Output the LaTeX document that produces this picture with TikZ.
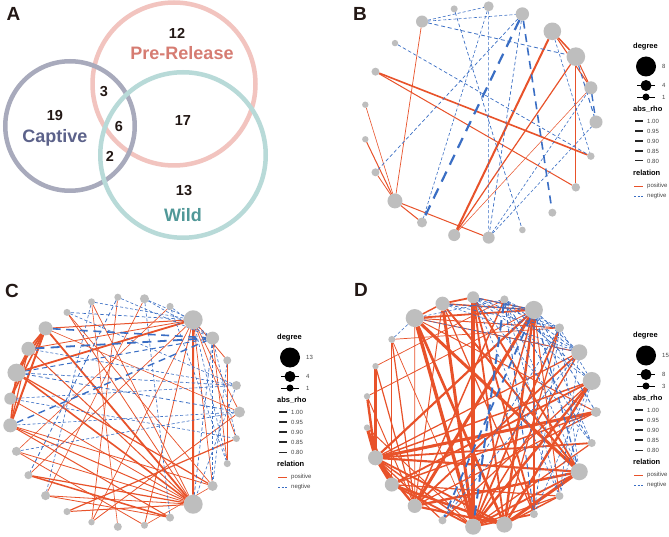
\documentclass[tikz,border=0pt]{standalone}
\usepackage{fontspec}
\setmainfont{Liberation Sans}
\usetikzlibrary{calc}
\pgfdeclarelayer{bgw}\pgfdeclarelayer{bg}\pgfsetlayers{bgw,bg,main}
\definecolor{posc}{RGB}{232,82,42}
\definecolor{negc}{RGB}{58,110,196}
\definecolor{ngray}{RGB}{190,190,190}
\definecolor{txt}{RGB}{35,24,21}
\definecolor{prec}{RGB}{242,196,191}
\definecolor{pretxt}{RGB}{214,124,114}
\definecolor{capc}{RGB}{168,170,188}
\definecolor{captxt}{RGB}{92,98,138}
\definecolor{wildc}{RGB}{184,218,216}
\definecolor{wildtxt}{RGB}{80,152,152}
\definecolor{lgtxt}{RGB}{70,70,70}
\tikzset{
  vnode/.style={circle, fill=ngray, inner sep=0pt, outer sep=0pt, minimum size=#1*2pt},
  pose/.style={draw=posc, line width=#1},
  nege/.style={draw=negc, line width=#1, dash pattern=on 5\pgflinewidth off 3.5\pgflinewidth},
  vcirc/.style={circle, draw=#1, line width=4.5pt, inner sep=0pt},
  vnum/.style={text=txt, font=\bfseries\fontsize{14.5}{16}\selectfont},
  vlab/.style={font=\bfseries\fontsize{18}{20}\selectfont},
  panel/.style={text=txt, font=\bfseries\fontsize{19}{21}\selectfont},
  lgt/.style={anchor=west, inner sep=0pt, text=lgtxt, font=\fontsize{6}{7}\selectfont},
  lgh/.style={anchor=west, inner sep=0pt, text=black, font=\bfseries\fontsize{7.5}{8}\selectfont},
  lgc/.style={circle, fill=black, inner sep=0pt, minimum size=#1*2pt},
}
\newcommand\lgd[6]{%
  \node[lgh] (#1deg) at (#2-1,#3) {degree};
  \node[lgc=10] (#1big) at (#2+12,#3+19.5) {};
  \node[lgt] (#1bigt) at (#2+28,#3+19.5) {#4};
  \coordinate (#1ma) at (#2+3,#3+38.5); \coordinate (#1mb) at (#2+21,#3+38.5);
  \draw[line width=0.9pt] (#1ma) -- (#1mb);
  \node[lgc=5.5] (#1mid) at (#2+12,#3+38.5) {};
  \node[lgt] (#1midt) at (#2+28,#3+38.5) {#5};
  \coordinate (#1sa) at (#2+3,#3+50); \coordinate (#1sb) at (#2+21,#3+50);
  \draw[line width=0.9pt] (#1sa) -- (#1sb);
  \node[lgc=3.5] (#1sml) at (#2+12,#3+50) {};
  \node[lgt] (#1smlt) at (#2+28,#3+50) {#6};
  \node[lgh] (#1abs) at (#2-1,#3+62) {abs\_rho};
  \foreach \k/\lab/\w in {0/1.00/2.2,1/0.95/1.9,2/0.90/1.6,3/0.85/1.3,4/0.80/1.0}{
    \coordinate (#1ra\k) at (#2+1,#3+74+10*\k);
    \coordinate (#1rb\k) at (#2+9,#3+74+10*\k);
    \draw[line width=\w pt, black!85] (#1ra\k) -- (#1rb\k);
    \node[lgt] (#1rt\k) at (#2+13,#3+74+10*\k) {\lab};
  }
  \node[lgh] (#1rel) at (#2-1,#3+126) {relation};
  \coordinate (#1pa) at (#2,#3+139); \coordinate (#1pb) at (#2+9,#3+139);
  \draw[posc, line width=0.7pt] (#1pa) -- (#1pb);
  \node[lgt] (#1pt) at (#2+13,#3+139) {positive};
  \coordinate (#1na) at (#2,#3+149); \coordinate (#1nb) at (#2+9,#3+149);
  \draw[negc, line width=0.7pt, dash pattern=on 2pt off 1.5pt] (#1na) -- (#1nb);
  \node[lgt] (#1nt) at (#2+13,#3+149) {negtive};
}
\begin{document}
\begin{tikzpicture}[x=1pt,y=-1pt]
\useasboundingbox (0,0) rectangle (669,537);
\begin{pgfonlayer}{bgw}
\fill[white] (0,0) rectangle (669,537);
\end{pgfonlayer}

% ---------- Panel A ----------
\node[panel] (pA) at (13.5,13.5) {A};
\node[vcirc=prec, minimum size=163pt] (pre) at (174,84) {};
\node[vcirc=capc, minimum size=129.5pt] (cap) at (70,126) {};
\node[vcirc=wildc, minimum size=165.5pt] (wild) at (183,155) {};
\node[vnum] (n12) at (177,33) {12};
\node[vlab, text=pretxt] (lpre) at (182,53) {Pre-Release};
\node[vnum] (n19) at (55,116) {19};
\node[vlab, text=captxt] (lcap) at (55,138) {Captive};
\node[vnum] (n3) at (104,92) {3};
\node[vnum] (n6) at (119,127) {6};
\node[vnum] (n17) at (183,121) {17};
\node[vnum] (n2) at (110,156) {2};
\node[vnum] (n13) at (184,191) {13};
\node[vlab, text=wildtxt] (lwild) at (183,215) {Wild};

% ---------- Panel B ----------
\node[panel] (pB) at (360,14) {B};
\foreach \i/\r in {0/6.5,1/6.5,2/9.3,3/8.8,4/6.7,5/5,6/3.5,7/6,8/3.2,9/4,10/3.2,11/3.2,12/4,13/7.5,14/5,15/6,16/6,17/3.3,18/4,19/4.2,20/3.7}
  \node[vnode=\r] (b\i) at ({480+116*cos(\i*360/21)},{122-116*sin(\i*360/21)}) {};
\begin{pgfonlayer}{bg}
\foreach \a/\b/\w in {7/13/0.7,13/10/0.6,13/11/1.0,13/12/0.8,13/14/1.0,13/16/1.0,9/20/1.6,9/19/1.0,15/3/2.0,15/2/1.2,15/1/0.5,3/2/1.4,3/1/1.1,2/1/1.0,2/19/1.0,3/2/0.8}
  \draw[pose=\w pt] (b\a) -- (b\b);
\foreach \a/\b/\w in {7/5/0.6,7/4/0.6,7/2/0.8,6/17/0.7,5/16/0.6,5/14/0.6,4/12/0.7,4/14/2.2,4/16/0.7,4/18/1.6,8/20/0.7,16/0/0.6,16/1/0.6,1/0/1.4,2/0/1.0,3/20/0.6}
  \draw[nege=\w pt] (b\a) -- (b\b);
\end{pgfonlayer}
\lgd{lb}{634}{47}{8}{4}{1}

% ---------- Panel C ----------
\node[panel] (pC) at (12,291) {C};
\foreach \i/\r in {0/5.5,1/4.5,2/4,3/6.5,4/9.5,5/3.5,6/4.5,7/3.5,8/3.5,9/3.5,10/7,11/7,12/9,13/6,14/7,15/4.5,16/4,17/4.5,18/3.5,19/3.2,20/4,21/3.5,22/4,23/9.5,24/5,25/3.5,26/3.5}
  \node[vnode=\r] (c\i) at ({124.5+115*cos(\i*360/27)},{412-115*sin(\i*360/27)}) {};
\begin{pgfonlayer}{bg}
\foreach \a/\b/\w in {4/23/2.0,10/4/1.0,11/4/0.8,12/4/1.8,10/11/1.5,10/12/1.8,10/13/1.6,10/14/2.0,11/13/1.5,11/14/1.2,12/14/1.6,11/12/1.2,10/23/1.8,12/23/1.6,11/23/1.0,14/23/1.0,15/23/0.8,16/23/1.2,17/23/0.8,18/23/1.0,16/22/1.5,9/23/0.8,8/23/0.7,4/16/0.7,4/19/0.7,4/21/0.8,4/0/0.7,4/24/0.7,4/2/0.8,4/26/0.7,2/25/1.0,18/26/1.2,14/24/0.8,12/24/1.2,15/21/0.8,7/19/0.7,8/20/0.6,6/17/0.6,3/25/0.7,13/23/0.8,17/22/0.8,19/0/0.8,5/15/0.6,9/24/0.7,10/0/0.6,14/22/1.0,21/24/0.6}
  \draw[pose=\w pt] (c\a) -- (c\b);
\foreach \a/\b/\w in {10/3/1.6,11/3/1.8,14/3/1.4,12/3/1.0,12/0/0.8,12/1/0.7,13/1/0.6,14/0/0.6,15/0/0.6,9/4/0.7,7/3/0.6,5/25/0.6,6/3/0.6,6/22/0.6,7/16/0.8,9/1/0.6,4/25/0.6,3/24/0.6,1/23/0.6,3/23/0.7,2/24/0.6,5/3/0.6,6/4/0.6,8/4/0.6,13/26/0.6,8/17/0.6,11/1/0.6,3/26/0.6}
  \draw[nege=\w pt] (c\a) -- (c\b);
\end{pgfonlayer}
\lgd{lc}{278}{338}{13}{4}{1}

% ---------- Panel D ----------
\node[panel] (pD) at (361,290) {D};
\foreach \i/\r in {0/5,1/9,2/8,3/4.5,4/9,5/4,6/6,7/7,8/9,9/3.5,10/3.2,11/3.2,12/3.2,13/7.5,14/7,15/7,16/4,17/8,18/8,19/4,20/4,21/8.5,22/4}
  \node[vnode=\r] (d\i) at ({481+115*cos(\i*360/23)},{412-115*sin(\i*360/23)}) {};
\begin{pgfonlayer}{bg}
\foreach \a/\b/\w in {8/17/2.8,8/18/2.2,8/21/2.5,8/4/1.5,8/7/1.2,7/6/1.5,7/4/1.2,6/4/1.0,7/17/2.5,6/17/2.8,6/18/1.5,7/19/1.0,4/15/2.5,4/13/1.8,4/17/1.2,4/18/2.0,13/0/2.5,13/22/1.5,13/15/2.0,13/14/2.5,13/16/1.0,13/17/1.2,13/18/1.5,14/17/1.5,14/18/2.0,15/18/1.8,15/21/2.0,12/17/0.8,11/15/0.8,10/15/1.0,10/13/2.5,11/13/2.0,12/13/2.5,12/14/1.5,9/15/1.0,9/14/0.8,2/15/1.5,2/13/1.0,1/13/1.2,1/14/1.5,1/17/2.0,21/7/1.5,21/13/1.8,0/15/1.0,3/17/1.5,3/18/1.0,4/19/1.0,4/20/0.8,2/17/1.2,1/18/2.0,21/18/2.5,21/17/1.5,22/17/1.0,20/17/1.0,6/21/1.5,7/21/1.2,8/0/0.8,8/3/0.8,20/14/1.0,0/14/1.2,2/8/0.8,3/9/0.6,11/4/0.7,10/5/0.6,6/19/1.5,5/15/1.2,17/19/1.5,18/20/1.2,7/15/0.8,9/17/0.6,1/16/1.0,8/15/0.7}
  \draw[pose={\w*1.2pt}] (d\a) -- (d\b);
\foreach \a/\b/\w in {7/4/0.8,6/4/1.0,7/3/0.7,8/5/0.6,5/2/0.7,6/1/0.6,4/22/0.6,5/20/0.6,3/19/0.7,2/20/0.6,1/19/0.6,4/16/1.8,5/17/2.0,3/16/0.7,6/22/0.6,9/8/0.6,4/0/0.8,5/1/0.8,3/21/0.6,7/2/0.6,5/22/0.8,4/21/1.2,2/16/0.7,1/20/0.6,6/20/0.6,5/19/1.0,8/2/0.6,6/3/0.7,5/3/0.6,4/2/0.8,6/2/0.6,3/1/0.6,5/21/0.6}
  \draw[nege=\w pt] (d\a) -- (d\b);
\end{pgfonlayer}
\lgd{ld}{634}{336}{15}{8}{3}
\end{tikzpicture}
\end{document}
